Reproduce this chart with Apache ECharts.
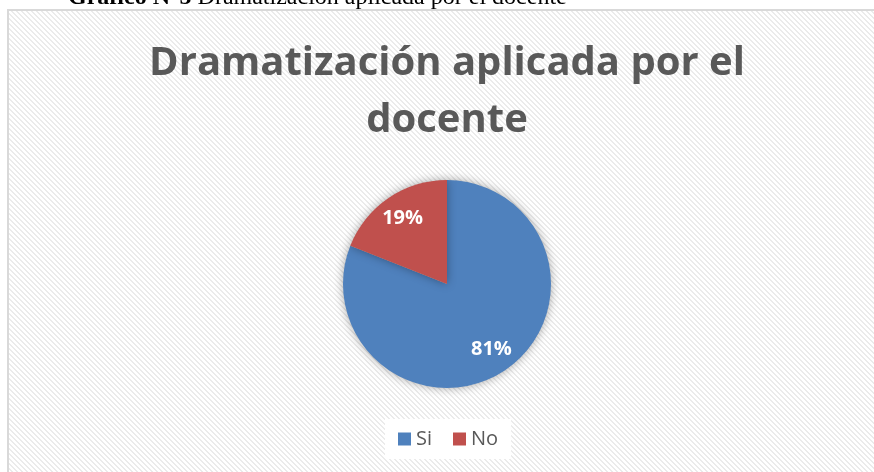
<!DOCTYPE html>
<html>
<head>
<meta charset="utf-8">
<script src="https://cdn.jsdelivr.net/npm/echarts@6/dist/echarts.min.js"></script>
<style>
  html, body { margin: 0; padding: 0; background: #fff; }
  #chart { width: 874px; height: 472px; }
</style>
</head>
<body>
<div id="chart"></div>
<script>
const categories = ['Si', 'No']
const values = [81, 19]
const colors = ['#4f81bd', '#c0504d']
const titleText = 'Dramatización aplicada por el\ndocente'
const captionBold = 'Gráfico N°5'
const captionText = ' Dramatización aplicada por el docente'

// diagonal hatch used as plot-area fill
function hatchPattern() {
  const n = 5
  const c = document.createElement('canvas')
  c.width = n
  c.height = n
  const ctx = c.getContext('2d')
  ctx.fillStyle = '#ffffff'
  ctx.fillRect(0, 0, n, n)
  ctx.fillStyle = '#ebebeb'
  for (let y = 0; y < n; y++) {
    for (let x = 0; x < n; x++) {
      const d = ((x - y) % n + n) % n
      if (d === 0 || d === 1) ctx.fillRect(x, y, 1, 1)
    }
  }
  return { image: c, repeat: 'repeat' }
}

const pieData = categories.map((name, i) => ({
  name,
  value: values[i],
  itemStyle: { color: colors[i] },
}))

const chart = echarts.init(document.getElementById('chart'), null, { renderer: 'canvas' })

chart.setOption({
  animation: false,
  backgroundColor: '#fff',
  graphic: [
    {
      type: 'rect',
      z: -10,
      shape: { x: 8, y: 10, width: 880, height: 480 },
      style: { fill: hatchPattern(), stroke: '#d9d9d9', lineWidth: 2 },
    },
    {
      type: 'text',
      x: 68,
      y: 10,
      style: {
        text: '{b|' + captionBold + '}' + captionText,
        font: '24px "Liberation Serif"',
        fill: '#000',
        verticalAlign: 'bottom',
        rich: { b: { font: 'bold 24px "Liberation Serif"', fill: '#000' } },
      },
    },
    {
      type: 'text',
      x: 447,
      y: 35,
      style: {
        text: titleText,
        align: 'center',
        verticalAlign: 'top',
        font: 'bold 40px "Open Sans"',
        lineHeight: 57,
        fill: '#595959',
      },
    },
  ],
  legend: {
    data: categories,
    top: 419,
    left: 385,
    icon: 'rect',
    itemWidth: 13,
    itemHeight: 13,
    itemGap: 21,
    backgroundColor: '#fff',
    padding: [10, 13, 10, 13],
    textStyle: { fontFamily: 'Open Sans', fontSize: 20, color: '#595959' },
  },
  series: [
    {
      type: 'pie',
      center: [447, 284],
      radius: 104,
      startAngle: 90,
      clockwise: true,
      label: { show: false },
      labelLine: { show: false },
      itemStyle: {
        shadowBlur: 10,
        shadowColor: 'rgba(0,0,0,0.35)',
      },
      emphasis: { disabled: true },
      data: pieData,
    },
    {
      // invisible ring only to place the percentage labels further out
      type: 'pie',
      center: [447, 284],
      radius: 152,
      startAngle: 90,
      clockwise: true,
      silent: true,
      itemStyle: { color: 'transparent' },
      label: {
        show: true,
        position: 'inside',
        formatter: '{c}%',
        fontFamily: 'Open Sans',
        fontWeight: 'bold',
        fontSize: 20,
        color: '#fff',
      },
      labelLine: { show: false },
      emphasis: { disabled: true },
      data: pieData.map((d) => ({ name: d.name, value: d.value })),
    },
  ],
})
</script>
</body>
</html>
